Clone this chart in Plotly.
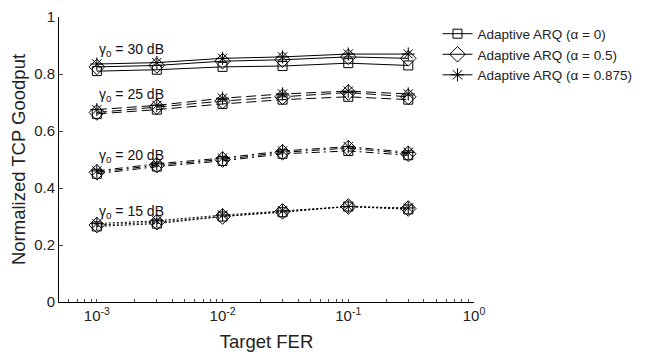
import plotly.graph_objects as go
import numpy as np

fer = [1e-3, 3e-3, 1e-2, 3e-2, 1e-1, 3e-1]
snr_labels = ["30", "25", "20", "15"]
alpha_names = ["Adaptive ARQ (\u03b1 = 0)", "Adaptive ARQ (\u03b1 = 0.5)", "Adaptive ARQ (\u03b1 = 0.875)"]

# goodput[snr][alpha]
g30_a0 = [0.810, 0.815, 0.825, 0.828, 0.838, 0.830]
g30_a05 = [0.825, 0.830, 0.845, 0.850, 0.860, 0.855]
g30_a0875 = [0.835, 0.840, 0.855, 0.860, 0.870, 0.870]

g25_a0 = [0.660, 0.675, 0.695, 0.710, 0.720, 0.710]
g25_a05 = [0.665, 0.685, 0.705, 0.720, 0.735, 0.720]
g25_a0875 = [0.675, 0.690, 0.715, 0.730, 0.740, 0.730]

g20_a0 = [0.450, 0.475, 0.495, 0.520, 0.530, 0.515]
g20_a05 = [0.455, 0.480, 0.500, 0.525, 0.540, 0.520]
g20_a0875 = [0.460, 0.485, 0.505, 0.530, 0.545, 0.525]

g15_a0 = [0.265, 0.275, 0.300, 0.315, 0.335, 0.325]
g15_a05 = [0.270, 0.280, 0.300, 0.318, 0.335, 0.328]
g15_a0875 = [0.275, 0.285, 0.305, 0.320, 0.335, 0.330]

label_y = [0.885, 0.725, 0.512, 0.317]

series = [
    [g30_a0, g30_a05, g30_a0875],
    [g25_a0, g25_a05, g25_a0875],
    [g20_a0, g20_a05, g20_a0875],
    [g15_a0, g15_a05, g15_a0875],
]
dashes = ["solid", "10px,5px", "8px,4px,2px,4px", "2px,2px"]
symbols = ["square-open", "diamond-open", "asterisk-open"]
sizes = [9, 12, 11]

fig = go.Figure()
for si, group in enumerate(series):
    for ai, vals in enumerate(group):
        fig.add_trace(go.Scatter(
            x=fer, y=vals, mode="lines+markers",
            name=alpha_names[ai], legendgroup=str(ai), showlegend=(si == 0),
            line=dict(color="black", width=1, dash=dashes[si]),
            marker=dict(symbol=symbols[ai], size=sizes[ai], color="black",
                        line=dict(color="black", width=1)),
        ))

for s, yv in zip(snr_labels, label_y):
    fig.add_annotation(x=np.log10(1.0e-3), y=yv, xref="x", yref="y",
                       text="\u03b3<sub>0</sub> = " + s + " dB", showarrow=False,
                       xanchor="left", yanchor="middle",
                       font=dict(size=14, color="#111"))

xticks = []
xtext = []
for d in range(-4, 1):
    for m in range(1, 10):
        v = m * 10.0 ** d
        if 5e-4 <= v <= 1.0001:
            xticks.append(v)
            xtext.append("10<sup>%d</sup>" % d if m == 1 else "")

# page body has an 8px default margin, so the figure is sized to compensate
fig.update_layout(
    width=641, height=347,
    margin=dict(l=51, r=175, t=9, b=53),
    paper_bgcolor="white", plot_bgcolor="white",
    font=dict(family="Liberation Sans, Arial, sans-serif", color="#222", size=15),
    showlegend=True,
    legend=dict(x=0.912, y=0.995, xanchor="left", yanchor="top",
                bgcolor="rgba(0,0,0,0)", font=dict(size=13.5, color="#222"),
                tracegroupgap=0),
    xaxis=dict(type="log", range=[np.log10(5e-4), 0], tickmode="array",
               tickvals=xticks, ticktext=xtext, ticks="inside", ticklen=3,
               showline=True, linecolor="black", linewidth=1, showgrid=False,
               zeroline=False, automargin=False, ticklabeloverflow="allow",
               title=dict(text="Target FER", font=dict(size=18.5), standoff=12),
               tickfont=dict(size=15)),
    yaxis=dict(range=[0, 1], tickvals=[0, 0.2, 0.4, 0.6, 0.8, 1],
               ticktext=["0", "0.2", "0.4", "0.6", "0.8", "1"],
               ticks="inside", ticklen=4, showline=True, linecolor="black",
               linewidth=1, showgrid=False, zeroline=False, automargin=False,
               ticklabeloverflow="allow",
               title=dict(text="Normalized TCP Goodput", font=dict(size=18.5), standoff=6),
               tickfont=dict(size=15)),
)

fig.write_html("out.html")
